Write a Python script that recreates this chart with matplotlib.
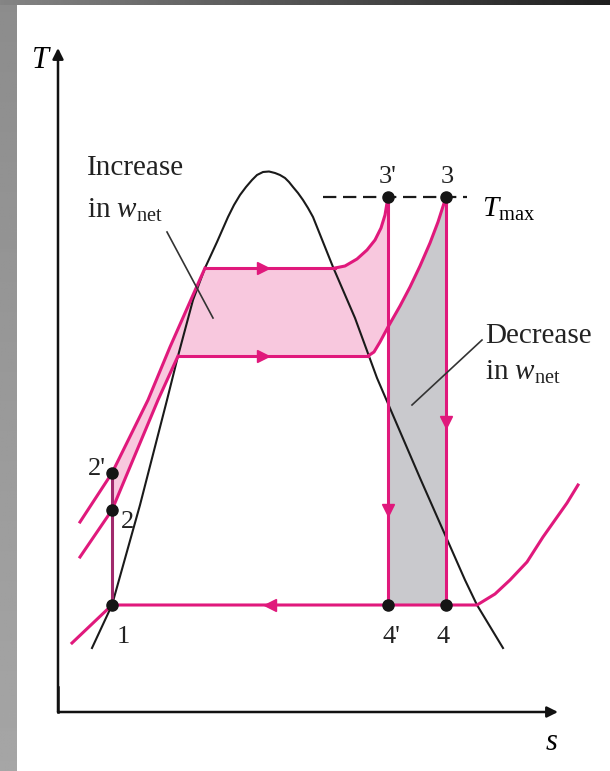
import numpy as np
import matplotlib
matplotlib.use("Agg")
import matplotlib.pyplot as plt

plt.rcParams['font.family'] = ['Liberation Serif', 'DejaVu Serif']
plt.rcParams['mathtext.fontset'] = 'custom'
plt.rcParams['mathtext.rm'] = 'Liberation Serif'
plt.rcParams['mathtext.it'] = 'Liberation Serif:italic'

# saturation dome (s, T)
dome_s = [0.68, 1.08, 1.64, 2.18, 2.40, 2.70, 2.94, 3.18, 3.40, 3.52, 3.64, 3.76, 3.88,
          3.98, 4.10, 4.22, 4.34, 4.44, 4.54, 4.62, 4.70, 4.80, 4.90, 5.00, 5.10,
          5.50, 5.94, 6.38, 7.24, 8.14, 8.38, 8.90]
dome_T = [1.28, 2.14, 4.14, 6.24, 7.12, 8.24, 8.88, 9.40, 9.90, 10.14, 10.34, 10.50, 10.64,
          10.74, 10.80, 10.81, 10.78, 10.74, 10.68, 10.60, 10.50, 10.38, 10.24, 10.08, 9.90,
          8.90, 7.88, 6.68, 4.68, 2.64, 2.14, 1.28]

# high boiler pressure cycle (1-2'-3'-4')
hi_liq_s = [0.44, 1.08, 1.80, 2.24, 2.70, 2.94]
hi_liq_T = [3.80, 4.78, 6.24, 7.30, 8.34, 8.88]
hi_sup_s = [5.54, 5.74, 5.98, 6.18, 6.34, 6.46, 6.54, 6.60]
hi_sup_T = [8.88, 8.92, 9.06, 9.24, 9.44, 9.68, 9.94, 10.30]

# original cycle (1-2-3-4)
lo_liq_s = [0.44, 1.08, 2.00, 2.40]
lo_liq_T = [3.10, 4.04, 6.24, 7.12]
lo_sup_s = [6.20, 6.32, 6.44, 6.60, 6.84, 7.04, 7.24, 7.44, 7.60, 7.76]
lo_sup_T = [7.12, 7.20, 7.40, 7.70, 8.12, 8.50, 8.92, 9.38, 9.80, 10.30]

# condenser isobar
cond_s = [0.28, 1.08, 8.38, 8.74, 9.04, 9.38, 9.70, 9.94, 10.18, 10.40]
cond_T = [1.38, 2.14, 2.14, 2.36, 2.64, 3.00, 3.50, 3.84, 4.18, 4.54]

T_max = 10.30
T_cond = 2.14
s_1 = 1.08
s_3p = 6.60
s_3 = 7.76
T_2 = 4.04
T_2p = 4.78

state_names = ['1', '2', "2'", "3'", '3', "4'", '4']
state_s = [s_1, s_1, s_1, s_3p, s_3, s_3p, s_3]
state_T = [T_cond, T_2, T_2p, T_max, T_max, T_cond, T_cond]
label_s = [1.30, 1.40, 0.78, 6.60, 7.78, 6.66, 7.70]
label_T = [1.38, 3.68, 4.74, 10.58, 10.58, 1.38, 1.38]

pink = '#e0197c'
pump = '#a02a6c'
fill_pink = '#f8c8de'
fill_gray = '#c9c9cd'

fig = plt.figure(figsize=(6.1, 7.71), dpi=100)
ax = fig.add_axes([0, 0, 1, 1])
ax.set_xlim(-1.16, 11.04)
ax.set_ylim(-1.18, 14.24)
ax.axis('off')

# shaded areas
i0 = lo_sup_s.index(s_3p)
gx = lo_sup_s[i0:] + [s_3, s_3p]
gy = lo_sup_T[i0:] + [T_cond, T_cond]
ax.fill(gx, gy, color=fill_gray, lw=0, zorder=1)

px = hi_liq_s[1:] + hi_sup_s + [s_3p] + lo_sup_s[:i0 + 1][::-1] + lo_liq_s[1:][::-1]
py = hi_liq_T[1:] + hi_sup_T + [lo_sup_T[i0]] + lo_sup_T[:i0 + 1][::-1] + lo_liq_T[1:][::-1]
ax.fill(px, py, color=fill_pink, lw=0, zorder=1)

# dome
ax.plot(dome_s, dome_T, color='#1a1a1a', lw=1.5, zorder=3)

# cycle lines
lw = 2.2
ax.plot(hi_liq_s, hi_liq_T, color=pink, lw=lw, zorder=4)
ax.plot([hi_liq_s[-1], hi_sup_s[0]], [hi_liq_T[-1], hi_sup_T[0]], color=pink, lw=lw, zorder=4)
ax.plot(hi_sup_s, hi_sup_T, color=pink, lw=lw, zorder=4)
ax.plot(lo_liq_s, lo_liq_T, color=pink, lw=lw, zorder=4)
ax.plot([lo_liq_s[-1], lo_sup_s[0]], [lo_liq_T[-1], lo_sup_T[0]], color=pink, lw=lw, zorder=4)
ax.plot(lo_sup_s, lo_sup_T, color=pink, lw=lw, zorder=4)
ax.plot(cond_s, cond_T, color=pink, lw=lw, zorder=4)
ax.plot([s_3p, s_3p], [T_max, T_cond], color=pink, lw=lw, zorder=4)
ax.plot([s_3, s_3], [T_max, T_cond], color=pink, lw=lw, zorder=4)
ax.plot([s_1, s_1], [T_cond, T_2p], color=pump, lw=lw, zorder=4)

# flow arrows
ax.plot([4.10], [hi_sup_T[0]], marker='>', ms=9, color=pink, zorder=5)
ax.plot([4.10], [lo_sup_T[0]], marker='>', ms=9, color=pink, zorder=5)
ax.plot([4.24], [T_cond], marker='<', ms=9, color=pink, zorder=5)
ax.plot([s_3], [5.80], marker='v', ms=9, color=pink, zorder=5)
ax.plot([s_3p], [4.04], marker='v', ms=9, color=pink, zorder=5)

# T max line
ax.plot([5.30, 8.18], [T_max, T_max], color='#1a1a1a', lw=1.6, ls=(0, (6, 3)), zorder=2)
ax.text(8.48, 9.90, r'$T_{\mathrm{max}}$', fontsize=21, va='baseline', ha='left')

# states
ax.plot(state_s, state_T, 'o', color='#151515', ms=8, zorder=6)
for name, x, y in zip(state_names, label_s, label_T):
    ax.text(x, y, name, fontsize=19, ha='center', va='baseline', color='#222222')

# annotations
ax.text(0.58, 10.74, 'Increase', fontsize=21, ha='left', va='baseline', color='#222222')
ax.text(0.58, 9.88, r'in $w_{\mathrm{net}}$', fontsize=21, ha='left', va='baseline', color='#222222')
ax.plot([2.18, 3.10], [9.60, 7.88], color='#333333', lw=1.2, zorder=5)
ax.text(8.54, 7.38, 'Decrease', fontsize=21, ha='left', va='baseline', color='#222222')
ax.text(8.54, 6.64, r'in $w_{\mathrm{net}}$', fontsize=21, ha='left', va='baseline', color='#222222')
ax.plot([8.48, 7.08], [7.44, 6.14], color='#333333', lw=1.2, zorder=5)

# axes with arrows
arw = dict(arrowstyle='-|>', color='#111111', lw=1.8, mutation_scale=16, shrinkA=0, shrinkB=0)
ax.annotate('', xy=(0, 13.28), xytext=(0, 0), arrowprops=arw)
ax.annotate('', xy=(10.0, 0), xytext=(0, 0), arrowprops=arw)
ax.plot([0, 0], [0, 0.5], color='#111111', lw=1.8)
ax.text(-0.34, 13.04, 'T', fontsize=22, style='italic', ha='center', va='center')
ax.text(9.88, -0.60, 's', fontsize=22, style='italic', ha='center', va='center')

# slide frame
top = fig.add_axes([0, 1 - 5 / 771, 1, 5 / 771])
top.imshow(np.linspace(0.52, 0.12, 256)[None, :], cmap='gray', vmin=0, vmax=1, aspect='auto')
top.axis('off')
side = fig.add_axes([0, 0, 17 / 610, 1 - 5 / 771])
side.imshow(np.linspace(0.55, 0.65, 256)[:, None], cmap='gray', vmin=0, vmax=1, aspect='auto')
side.axis('off')

fig.savefig('out.png', dpi=100)
